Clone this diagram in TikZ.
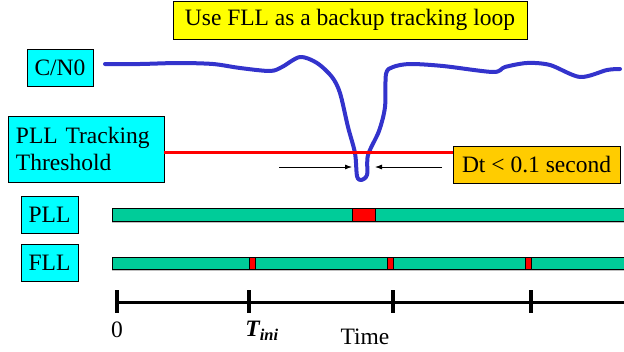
\documentclass[tikz,border=0pt]{standalone}
\usepackage{fontspec}
\setmainfont{Liberation Serif}
\newfontfamily\timesfont{Liberation Serif}
\usetikzlibrary{positioning,arrows.meta}

\definecolor{boxcyan}{RGB}{0,255,255}
\definecolor{titleyellow}{RGB}{255,255,0}
\definecolor{cnblue}{RGB}{51,51,204}
\definecolor{dtorange}{RGB}{255,204,0}
\definecolor{bargreen}{RGB}{0,204,153}

\begin{document}
\begin{tikzpicture}[
    x=1pt, y=-1pt,
    every node/.style={font=\timesfont\fontsize{23.5}{27}\selectfont},
    lbox/.style={rectangle, draw, line width=0.8pt, fill=boxcyan, inner sep=0pt, minimum height=37pt},
    titlebox/.style={rectangle, draw, line width=0.8pt, fill=titleyellow, inner sep=0pt, minimum width=354pt, minimum height=38pt},
    dtbox/.style={rectangle, draw, line width=0.8pt, fill=dtorange, inner sep=0pt, minimum width=167pt, minimum height=37pt},
    bar/.style={draw, line width=0.8pt, fill=bargreen},
    loss/.style={draw, line width=0.8pt, fill=red},
    arrow/.style={-{Latex[length=7pt,width=5pt]}, line width=0.8pt}
]
\useasboundingbox (0,0) rectangle (624,351);

% Boxes
\node[titlebox] (title) at (350,20) {Use FLL as a backup tracking loop};
\node[lbox, minimum width=66pt] (cn0) at (60,67.5) {C/N0};
\node[lbox, text width=140pt, inner xsep=8pt, minimum height=66pt, align=left] (thr) at (86,149) {PLL Tracking\\Threshold};
\node[dtbox] (dt) at (536.5,164.5) {Dt < 0.1 second};
\node[lbox, minimum width=57pt] (pll) at (49.5,214.5) {PLL};
\node[lbox, minimum width=57pt] (fll) at (49.5,262.5) {FLL};

% C/N0 curve
\draw[cnblue, line width=4pt, line cap=round, line join=round]
  plot[smooth, tension=0.5] coordinates {(105,64) (140,64) (178,63) (213,64) (240,68)
  (270,71) (282,67) (300,57) (317,63) (332,77) (340,93) (348,127) (355,153) (357,176)
  (361,180) (367,175) (368,155) (379,131) (385,107) (386,74) (393,67) (410,64) (443,66)
  (493,72) (505,67) (527,63) (550,65) (580,77) (607,70) (620,69)};

% Threshold line
\draw[red, line width=3pt] ([yshift=-3pt]thr.east) -- ([yshift=-3pt]thr.east -| dt.west);

% Dt arrows
\coordinate (la) at (279,167);
\coordinate (lb) at (352,167);
\coordinate (ra) at (442,167);
\coordinate (rb) at (375,167);
\draw[arrow] (la) -- (lb);
\draw[arrow] (ra) -- (rb);

% PLL bar
\fill[gray!50] (112,221) rectangle (624,223);
\draw[bar] (112,208) rectangle (624,221);
\draw[loss] (352,208) rectangle (375,221);

% FLL bar
\fill[gray!50] (112,269) rectangle (624,271);
\draw[bar] (112,257) rectangle (624,269);
\foreach \x in {249,387,525}
  \draw[loss] (\x,257) rectangle (\x+6,269);

% Time axis
\coordinate (t0) at (117,302);
\coordinate (tend) at (624,302);
\draw[line width=3pt] (t0) -- (tend);
\foreach \x in {117,249,393,531}
  \draw[line width=4pt] (\x,290) -- (\x,313);

\node (zero) at (117,330) {0};
\node (tini) at (262,331) {\bfseries\itshape T\textsubscript{ini}};
\node (time) at (365,337) {Time};

\end{tikzpicture}
\end{document}
